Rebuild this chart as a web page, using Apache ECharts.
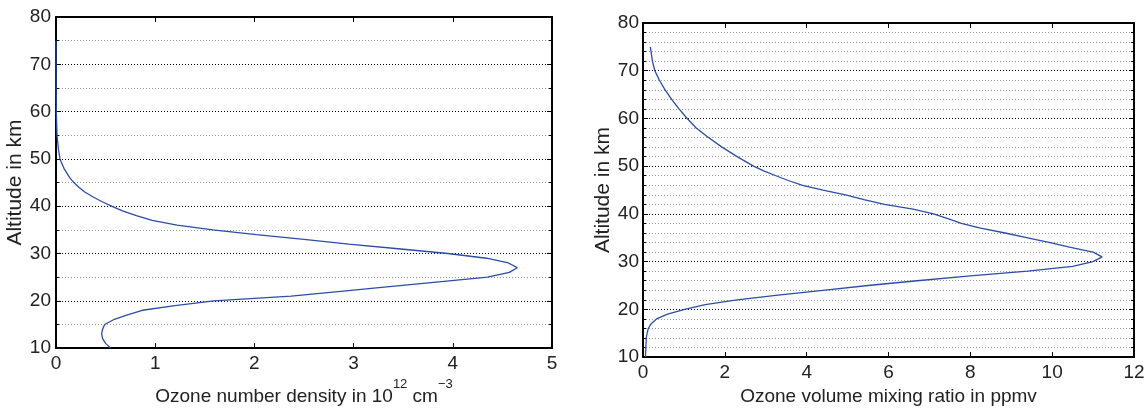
<!DOCTYPE html>
<html>
<head>
<meta charset="utf-8">
<script src="https://cdn.jsdelivr.net/npm/echarts@6/dist/echarts.min.js"></script>
<style>
html,body{margin:0;padding:0;background:#fff;}
#chart{width:1148px;height:411px;}
</style>
</head>
<body>
<div id="chart"></div>
<script>
// Left panel: ozone number density (10^12 cm^-3) vs altitude (km)
const altLeft = [10,11,12,13,14,15,16,17,18,19,20,21,22,23,24,25,26,27,28,29,30,31,32,33,34,35,36,37,38,39,40,41,42,43,44,45,46,47,48,49,50,52,55,60,65,70,75];
const densityLeft = [0.55,0.50,0.47,0.46,0.47,0.49,0.58,0.72,0.87,1.20,1.59,2.37,2.87,3.36,3.86,4.35,4.57,4.65,4.56,4.34,3.95,3.45,2.95,2.50,2.02,1.58,1.22,0.97,0.81,0.67,0.56,0.46,0.37,0.29,0.23,0.18,0.14,0.11,0.08,0.06,0.04,0.025,0.01,0.003,0.001,0.0003,0.0001];

// Right panel: ozone volume mixing ratio (ppmv) vs altitude (km)
const altRight = [10,11,12,13,14,15,16,17,18,19,20,21,22,23,24,25,26,27,28,29,30,31,32,33,34,35,36,37,38,39,40,41,42,43,44,45,46,47,48,49,50,52,54,56,58,60,62,64,66,68,70,72,75];
const vmrRight = [0.06,0.065,0.07,0.075,0.08,0.10,0.13,0.20,0.33,0.60,1.02,1.52,2.30,3.30,4.40,5.50,6.70,8.00,9.40,10.50,11.00,11.22,11.00,10.45,9.95,9.40,8.85,8.25,7.78,7.45,7.10,6.60,5.90,5.40,4.95,4.40,3.90,3.55,3.25,2.95,2.70,2.30,1.93,1.60,1.30,1.08,0.88,0.70,0.54,0.40,0.29,0.23,0.18];

const xTicksLeft = {min:0, max:5, interval:1};
const xTicksRight = {min:0, max:12, interval:2};
const yTicks = {min:10, max:80, interval:10};

const FONT = '"Liberation Sans", Arial, Helvetica, sans-serif';
const LINE_COLOR = '#2c4ca6';

const axisLineStyle = {show:true, onZero:false, lineStyle:{color:'#000', width:2}};
const tickStyle = {show:true, inside:true, length:5, lineStyle:{color:'#000', width:1}};
const labelStyle = {fontSize:19, color:'#222', fontFamily:FONT};

function xAxisPair(grid, t, name, nameGap, rich){
  return [
    {
      gridIndex:grid, type:'value', position:'bottom', min:t.min, max:t.max, interval:t.interval,
      axisLine:axisLineStyle, axisTick:tickStyle,
      axisLabel:Object.assign({margin:6}, labelStyle),
      splitLine:{show:false},
      name:name, nameLocation:'middle', nameGap:nameGap,
      nameTextStyle:Object.assign({fontSize:19, color:'#222', fontFamily:FONT}, rich ? {rich:rich} : {})
    },
    {
      gridIndex:grid, type:'value', position:'top', min:t.min, max:t.max, interval:t.interval,
      axisLine:axisLineStyle, axisTick:tickStyle,
      axisLabel:{show:false}, splitLine:{show:false}
    }
  ];
}

function yAxisPair(grid, minorSplit, labelMargin, nameGap){
  const minorTick = {show:true, splitNumber:minorSplit, length:3, lineStyle:{color:'#000', width:1}};
  return [
    {
      gridIndex:grid, type:'value', position:'left', min:yTicks.min, max:yTicks.max, interval:yTicks.interval,
      axisLine:axisLineStyle, axisTick:tickStyle, minorTick:minorTick,
      axisLabel:Object.assign({margin:labelMargin}, labelStyle),
      splitLine:{show:true, lineStyle:{color:'#000', width:1, type:[1,2]}},
      minorSplitLine:{show:true, lineStyle:{color:'#9a9a9a', width:1, type:[1,2]}},
      name:'Altitude in km', nameLocation:'middle', nameGap:nameGap,
      nameTextStyle:{fontSize:21, color:'#222', fontFamily:FONT}
    },
    {
      gridIndex:grid, type:'value', position:'right', min:yTicks.min, max:yTicks.max, interval:yTicks.interval,
      axisLine:axisLineStyle, axisTick:tickStyle, minorTick:minorTick,
      axisLabel:{show:false}, splitLine:{show:false}, minorSplitLine:{show:false}
    }
  ];
}

const richSup = {
  a:{fontSize:19, color:'#222', fontFamily:FONT, lineHeight:19, verticalAlign:'bottom'},
  b:{fontSize:13, color:'#222', fontFamily:FONT, lineHeight:13, verticalAlign:'top'},
  sp:{fontSize:19, lineHeight:28}
};

const xAxes = [].concat(
  xAxisPair(0, xTicksLeft, '{sp|}{a|Ozone number density in 10}{b|12}{a| cm}{b|−3}', 22, richSup),
  xAxisPair(1, xTicksRight, 'Ozone volume mixing ratio in ppmv', 25, null)
);
const yAxes = [].concat(
  yAxisPair(0, 2, 5, 30),
  yAxisPair(1, 5, 4, 29)
);

const chart = echarts.init(document.getElementById('chart'), null, {renderer:'canvas'});
chart.setOption({
  animation:false,
  backgroundColor:'#ffffff',
  grid:[
    {left:56, top:17, width:496, height:346, containLabel:false},
    {left:643, top:23, width:491, height:342, containLabel:false}
  ],
  xAxis:xAxes,
  yAxis:yAxes,
  series:[
    {
      type:'line', xAxisIndex:0, yAxisIndex:0,
      data:altLeft.map((a,i)=>[densityLeft[i], a]),
      showSymbol:false, symbol:'none',
      lineStyle:{color:LINE_COLOR, width:1.3},
      itemStyle:{color:LINE_COLOR}
    },
    {
      type:'line', xAxisIndex:2, yAxisIndex:2,
      data:altRight.map((a,i)=>[vmrRight[i], a]),
      showSymbol:false, symbol:'none',
      lineStyle:{color:LINE_COLOR, width:1.3},
      itemStyle:{color:LINE_COLOR}
    }
  ]
});
</script>
</body>
</html>
